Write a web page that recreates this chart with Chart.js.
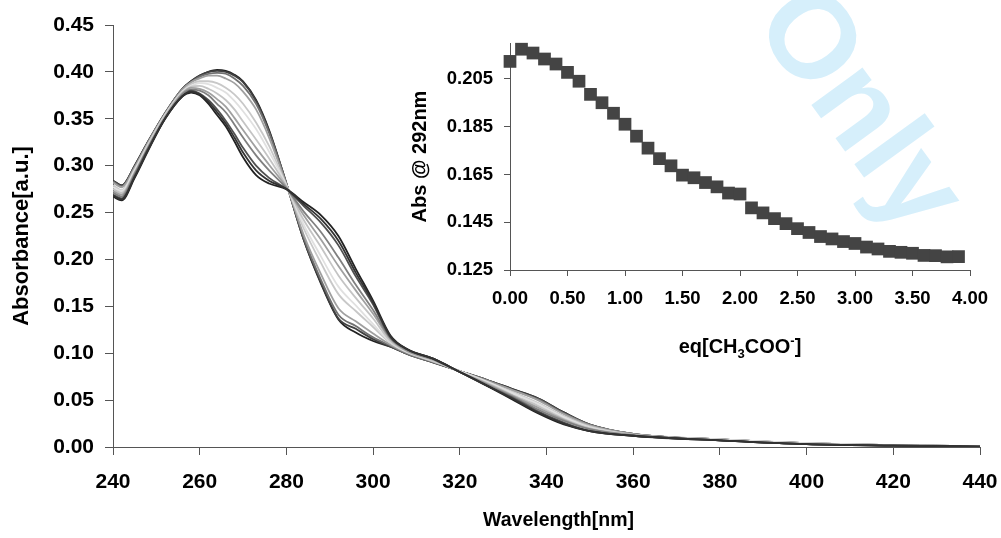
<!DOCTYPE html>
<html><head><meta charset="utf-8">
<script src="https://cdn.jsdelivr.net/npm/chart.js@4.4.1/dist/chart.umd.min.js"></script>
<style>
html,body{margin:0;padding:0;background:#fff;}
#wrap{position:relative;width:1001px;height:538px;overflow:hidden;background:#fff;}
#wm{position:absolute;left:864px;top:106px;transform:translate(-50%,-50%) rotate(54deg);font:bold 120px "Liberation Sans",Arial,sans-serif;color:#d6effb;line-height:1;white-space:nowrap;z-index:0;}
#main{position:absolute;left:0;top:0;z-index:1;}
#inset{position:absolute;left:400px;top:20px;z-index:2;}
</style></head>
<body><div id="wrap"><div id="wm">Only</div><canvas id="main" width="1001" height="538"></canvas><canvas id="inset" width="590" height="350"></canvas></div>
<script>
// ---------- main chart data ----------
const wavelengths = [240,242,245,248,252,256,258,260,262,264,266,268,270,273,276,280,284,288,292,296,300,304,308,314,320,326,332,338,344,350,360,380,400,420,440];
const spec_eq0_0 = [0.268,0.264,0.288,0.316,0.350,0.374,0.379,0.376,0.368,0.357,0.345,0.330,0.314,0.295,0.284,0.275,0.259,0.243,0.220,0.186,0.154,0.118,0.104,0.094,0.080,0.066,0.052,0.037,0.025,0.017,0.012,0.007,0.003,0.0015,0.0005];
const spec_eq0_1 = [0.267,0.263,0.287,0.315,0.350,0.374,0.378,0.375,0.366,0.354,0.342,0.326,0.309,0.290,0.281,0.275,0.261,0.247,0.225,0.190,0.156,0.119,0.104,0.094,0.080,0.066,0.051,0.036,0.024,0.017,0.012,0.007,0.003,0.0015,0.0005];
const spec_eq0_5 = [0.269,0.265,0.289,0.317,0.350,0.374,0.380,0.377,0.370,0.360,0.348,0.334,0.319,0.300,0.287,0.275,0.257,0.239,0.215,0.182,0.152,0.117,0.104,0.094,0.080,0.066,0.053,0.038,0.026,0.017,0.012,0.007,0.003,0.0015,0.0005];
const spec_eq0_8 = [0.271,0.267,0.291,0.318,0.351,0.376,0.381,0.380,0.375,0.366,0.357,0.344,0.330,0.311,0.295,0.276,0.251,0.229,0.202,0.173,0.146,0.116,0.103,0.093,0.080,0.067,0.054,0.040,0.028,0.019,0.012,0.007,0.003,0.0016,0.0006];
const spec_eq1_0 = [0.273,0.269,0.292,0.319,0.352,0.377,0.383,0.382,0.378,0.371,0.363,0.351,0.338,0.319,0.301,0.277,0.247,0.221,0.193,0.167,0.142,0.115,0.102,0.093,0.080,0.068,0.055,0.042,0.029,0.019,0.013,0.007,0.003,0.0017,0.0007];
const spec_eq1_2 = [0.275,0.271,0.293,0.320,0.353,0.378,0.384,0.385,0.382,0.377,0.370,0.360,0.347,0.328,0.308,0.278,0.242,0.213,0.183,0.159,0.137,0.113,0.102,0.092,0.080,0.069,0.056,0.044,0.030,0.020,0.013,0.007,0.003,0.0017,0.0007];
const spec_eq1_5 = [0.277,0.273,0.295,0.321,0.354,0.379,0.385,0.388,0.387,0.383,0.378,0.369,0.358,0.339,0.315,0.279,0.237,0.203,0.171,0.151,0.131,0.112,0.101,0.092,0.081,0.070,0.058,0.046,0.032,0.021,0.013,0.008,0.004,0.0018,0.0008];
const spec_eq2_0 = [0.279,0.274,0.296,0.322,0.354,0.379,0.387,0.390,0.390,0.388,0.383,0.376,0.366,0.346,0.321,0.279,0.233,0.196,0.163,0.145,0.128,0.111,0.101,0.091,0.081,0.070,0.059,0.047,0.033,0.022,0.013,0.008,0.004,0.0018,0.0008];
const spec_eq2_5 = [0.282,0.277,0.298,0.324,0.355,0.381,0.389,0.393,0.396,0.396,0.393,0.388,0.379,0.360,0.330,0.280,0.226,0.184,0.148,0.134,0.121,0.109,0.100,0.091,0.081,0.071,0.061,0.050,0.035,0.023,0.014,0.008,0.004,0.002,0.001];
const spec_eq3_0 = [0.283,0.278,0.299,0.324,0.356,0.382,0.389,0.395,0.398,0.399,0.398,0.393,0.385,0.366,0.335,0.281,0.223,0.178,0.141,0.129,0.117,0.108,0.099,0.090,0.081,0.072,0.061,0.051,0.036,0.024,0.014,0.008,0.004,0.002,0.001];
const spec_eq3_5 = [0.284,0.279,0.300,0.325,0.356,0.382,0.390,0.396,0.400,0.401,0.400,0.396,0.389,0.369,0.337,0.281,0.221,0.175,0.137,0.126,0.115,0.107,0.099,0.090,0.081,0.072,0.062,0.052,0.037,0.024,0.014,0.008,0.004,0.002,0.001];
const spec_eq3_9 = [0.284,0.279,0.300,0.325,0.356,0.382,0.390,0.396,0.400,0.402,0.401,0.397,0.390,0.370,0.338,0.281,0.221,0.174,0.136,0.122,0.113,0.107,0.099,0.090,0.081,0.072,0.062,0.052,0.037,0.024,0.014,0.008,0.004,0.002,0.001];
const spectra = [spec_eq0_0,spec_eq0_1,spec_eq0_5,spec_eq0_8,spec_eq1_0,spec_eq1_2,spec_eq1_5,spec_eq2_0,spec_eq2_5,spec_eq3_0,spec_eq3_5,spec_eq3_9];
const spectraColors = ['#333333','#222222','#505050','#808080','#a0a0a0','#c4c4c4','#e0e0e0','#c8c8c8','#a0a0a0','#707070','#404040','#222222'];
const mainXTicks = [240,260,280,300,320,340,360,380,400,420,440];
const mainYTicks = [0,0.05,0.10,0.15,0.20,0.25,0.30,0.35,0.40,0.45];
const mainXTitle = 'Wavelength[nm]';
const mainYTitle = 'Absorbance[a.u.]';

// ---------- inset data ----------
const eqValues = [0,0.1,0.2,0.3,0.4,0.5,0.6,0.7,0.8,0.9,1.0,1.1,1.2,1.3,1.4,1.5,1.6,1.7,1.8,1.9,2.0,2.1,2.2,2.3,2.4,2.5,2.6,2.7,2.8,2.9,3.0,3.1,3.2,3.3,3.4,3.5,3.6,3.7,3.8,3.9];
const abs292 = [0.2123,0.2174,0.2158,0.2133,0.2112,0.2077,0.2040,0.1985,0.1950,0.1906,0.1860,0.1810,0.1760,0.1716,0.1686,0.1647,0.1636,0.1616,0.1598,0.1572,0.1568,0.1510,0.1489,0.1465,0.1444,0.1423,0.1407,0.1390,0.1380,0.1369,0.1361,0.1346,0.1338,0.1328,0.1324,0.1320,0.1311,0.1310,0.1305,0.1306];
const insetXTicks = [0,0.5,1.0,1.5,2.0,2.5,3.0,3.5,4.0];
const insetYTicks = [0.125,0.145,0.165,0.185,0.205];
const insetYTitle = 'Abs @ 292nm';
const insetXTitleParts = [['eq[CH','n'],['3','sub'],['COO','n'],['-','sup'],[']','n']];

const FAM = '"Liberation Sans", Arial, Helvetica, sans-serif';
const AXC = '#555';

const mainTitlePlugin = {
  id: 'mainXTitle',
  afterDraw(chart) {
    const ctx = chart.ctx;
    const a = chart.chartArea;
    ctx.save();
    ctx.fillStyle = '#000';
    ctx.font = 'bold 19.5px ' + FAM;
    ctx.textAlign = 'center';
    ctx.textBaseline = 'middle';
    ctx.fillText(mainXTitle, (a.left + a.right) / 2 + 12, 521);
    ctx.restore();
  }
};

const mainChart = new Chart(document.getElementById('main'), {
  type: 'line',
  data: {
    datasets: spectra.map((s, i) => ({
      data: wavelengths.map((w, k) => ({x: w, y: s[k]})),
      borderColor: spectraColors[i],
      borderWidth: 1.8,
      pointRadius: 0,
      cubicInterpolationMode: 'monotone',
      fill: false
    }))
  },
  options: {
    responsive: false, animation: false, devicePixelRatio: 1,
    layout: {padding: {top: 25, right: 21, left: 0, bottom: 0}},
    plugins: {legend: {display: false}, tooltip: {enabled: false}},
    scales: {
      x: {
        type: 'linear', min: 240, max: 440,
        afterBuildTicks: s => { s.ticks = mainXTicks.map(v => ({value: v})); },
        afterFit: s => { s.height = 91; s.paddingLeft = 0; s.paddingRight = 0; },
        ticks: {font: {family: FAM, size: 21, weight: 'bold'}, color: '#000', padding: 15, maxRotation: 0, autoSkip: false, callback: v => String(v)},
        grid: {display: true, drawOnChartArea: false, drawTicks: true, tickLength: 8, color: AXC, lineWidth: 1},
        border: {display: true, color: AXC, width: 1}
      },
      y: {
        type: 'linear', min: 0, max: 0.45,
        afterBuildTicks: s => { s.ticks = mainYTicks.map(v => ({value: v})); },
        afterFit: s => { s.width = 113; s.paddingTop = 0; s.paddingBottom = 0; },
        ticks: {font: {family: FAM, size: 21, weight: 'bold'}, color: '#000', padding: 11, autoSkip: false, callback: v => Number(v).toFixed(2)},
        grid: {display: true, drawOnChartArea: false, drawTicks: true, tickLength: 8, color: AXC, lineWidth: 1},
        border: {display: true, color: AXC, width: 1},
        title: {display: true, text: mainYTitle, font: {family: FAM, size: 22, weight: 'bold'}, color: '#000', padding: {top: 9, bottom: 0}}
      }
    }
  },
  plugins: [mainTitlePlugin]
});

const insetTitlePlugin = {
  id: 'insetXTitle',
  afterDraw(chart) {
    const ctx = chart.ctx;
    const area = chart.chartArea;
    const cx = (area.left + area.right) / 2;
    const base = 333;
    const big = 'bold 20px ' + FAM, small = 'bold 13px ' + FAM;
    ctx.save();
    ctx.fillStyle = '#000';
    ctx.textBaseline = 'alphabetic';
    ctx.textAlign = 'left';
    let total = 0;
    insetXTitleParts.forEach(([t, k]) => { ctx.font = k === 'n' ? big : small; total += ctx.measureText(t).width; });
    let x = cx - total / 2;
    insetXTitleParts.forEach(([t, k]) => {
      ctx.font = k === 'n' ? big : small;
      const dy = k === 'sub' ? 5 : (k === 'sup' ? -8 : 0);
      ctx.fillText(t, x, base + dy);
      x += ctx.measureText(t).width;
    });
    ctx.restore();
  }
};

const insetChart = new Chart(document.getElementById('inset'), {
  type: 'scatter',
  data: {
    datasets: [{
      data: eqValues.map((e, i) => ({x: e, y: abs292[i]})),
      pointStyle: 'rect', pointRadius: 9, pointHoverRadius: 9,
      backgroundColor: '#444444', borderColor: '#444444', borderWidth: 0,
      showLine: false, clip: false
    }]
  },
  options: {
    responsive: false, animation: false, devicePixelRatio: 1,
    layout: {padding: {top: 23, right: 20, left: 0, bottom: 0}},
    plugins: {legend: {display: false}, tooltip: {enabled: false}},
    scales: {
      x: {
        type: 'linear', min: 0, max: 4,
        afterBuildTicks: s => { s.ticks = insetXTicks.map(v => ({value: v})); },
        afterFit: s => { s.height = 100; s.paddingLeft = 0; s.paddingRight = 0; },
        ticks: {font: {family: FAM, size: 18.5, weight: 'bold'}, color: '#000', padding: 12, maxRotation: 0, autoSkip: false, callback: v => Number(v).toFixed(2)},
        grid: {display: true, drawOnChartArea: false, drawTicks: true, tickLength: 6, color: AXC, lineWidth: 1},
        border: {display: true, color: AXC, width: 1}
      },
      y: {
        type: 'linear', min: 0.125, max: 0.22,
        afterBuildTicks: s => { s.ticks = insetYTicks.map(v => ({value: v})); },
        afterFit: s => { s.width = 110; s.paddingTop = 0; s.paddingBottom = 0; },
        ticks: {font: {family: FAM, size: 18.5, weight: 'bold'}, color: '#000', padding: 11, autoSkip: false, callback: v => Number(v).toFixed(3)},
        grid: {display: true, drawOnChartArea: false, drawTicks: true, tickLength: 6, color: AXC, lineWidth: 1},
        border: {display: true, color: AXC, width: 1},
        title: {display: true, text: insetYTitle, font: {family: FAM, size: 20, weight: 'bold'}, color: '#000', padding: {top: 8, bottom: 0}}
      }
    }
  },
  plugins: [insetTitlePlugin]
});
</script>
</body></html>
